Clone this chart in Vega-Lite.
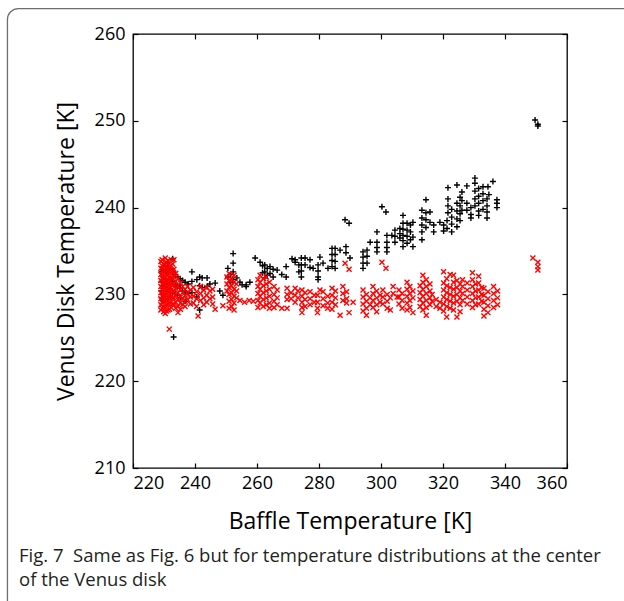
{
  "$schema": "https://vega.github.io/schema/vega-lite/v6.json",
  "width": 434,
  "height": 434,
  "autosize": {"type": "none"},
  "padding": {"left": 133, "top": 34, "right": 57, "bottom": 133},
  "background": "white",
  "config": {
    "view": {"stroke": "#000000", "strokeWidth": 1.3},
    "axis": {"domain": false, "grid": false, "ticks": true, "tickSize": -5, "tickColor": "#000000", "tickWidth": 1.2,
      "labelFont": "Open Sans", "labelFontSize": 18, "labelColor": "#000000",
      "titleFont": "Open Sans", "titleFontSize": 23, "titleFontWeight": "normal", "titleColor": "#000000"},
    "title": {"font": "Open Sans", "fontSize": 18.5, "fontWeight": "normal", "color": "#231f20"}
  },
  "title": {
    "text": ["Fig. 7\u00a0\u00a0Same as Fig. 6 but for temperature distributions at the center", "of the Venus disk"],
    "orient": "bottom", "anchor": "start", "frame": "group", "dx": -114, "offset": -69, "lineHeight": 24
  },
  "datasets": {
    "black": [
      {"baffle":229.2,"venus":232.6},{"baffle":229.2,"venus":231.5},{"baffle":229.2,"venus":230.4},{"baffle":229.2,"venus":229.6},
      {"baffle":229.8,"venus":233.2},{"baffle":229.8,"venus":232.0},{"baffle":229.8,"venus":231.0},{"baffle":229.8,"venus":230.0},{"baffle":229.8,"venus":229.2},
      {"baffle":230.5,"venus":232.8},{"baffle":230.5,"venus":231.7},{"baffle":230.5,"venus":230.8},{"baffle":230.5,"venus":229.8},
      {"baffle":231.2,"venus":233.6},{"baffle":231.2,"venus":232.4},{"baffle":231.2,"venus":231.3},{"baffle":231.2,"venus":230.3},{"baffle":231.2,"venus":229.4},
      {"baffle":232.0,"venus":232.9},{"baffle":232.0,"venus":231.8},{"baffle":232.0,"venus":230.6},{"baffle":232.0,"venus":229.7},
      {"baffle":232.8,"venus":234.1},{"baffle":232.8,"venus":232.6},{"baffle":232.8,"venus":231.5},{"baffle":232.8,"venus":230.2},
      {"baffle":233.1,"venus":225.1},
      {"baffle":233.6,"venus":232.3},{"baffle":233.6,"venus":231.2},{"baffle":233.6,"venus":230.1},
      {"baffle":234.4,"venus":232.0},{"baffle":234.4,"venus":231.0},{"baffle":234.4,"venus":229.9},
      {"baffle":235.2,"venus":231.8},{"baffle":235.2,"venus":230.7},{"baffle":235.2,"venus":229.6},
      {"baffle":236.0,"venus":231.6},{"baffle":236.0,"venus":230.4},
      {"baffle":236.8,"venus":231.4},{"baffle":236.8,"venus":230.3},{"baffle":236.8,"venus":229.2},
      {"baffle":237.8,"venus":231.2},{"baffle":237.8,"venus":230.1},
      {"baffle":239.0,"venus":232.6},{"baffle":239.0,"venus":231.5},{"baffle":239.0,"venus":230.2},
      {"baffle":240.6,"venus":231.7},{"baffle":240.6,"venus":229.7},
      {"baffle":241.5,"venus":232.0},{"baffle":241.5,"venus":231.0},{"baffle":241.5,"venus":228.2},
      {"baffle":242.3,"venus":231.9},{"baffle":242.3,"venus":230.8},
      {"baffle":243.9,"venus":231.9},{"baffle":243.9,"venus":230.9},
      {"baffle":244.8,"venus":231.2},{"baffle":246.5,"venus":231.3},{"baffle":248.0,"venus":230.4},{"baffle":249.0,"venus":229.9},
      {"baffle":250.6,"venus":233.0},{"baffle":250.6,"venus":232.0},
      {"baffle":251.5,"venus":232.3},{"baffle":251.5,"venus":231.4},
      {"baffle":252.3,"venus":234.7},{"baffle":252.3,"venus":233.6},{"baffle":252.3,"venus":232.6},{"baffle":252.3,"venus":231.7},
      {"baffle":253.5,"venus":231.9},{"baffle":254.5,"venus":231.4},{"baffle":255.2,"venus":231.1},
      {"baffle":256.5,"venus":230.9},{"baffle":256.5,"venus":231.1},{"baffle":257.7,"venus":231.4},
      {"baffle":259.4,"venus":234.2},{"baffle":261.0,"venus":233.7},
      {"baffle":261.8,"venus":233.3},{"baffle":261.8,"venus":232.5},
      {"baffle":262.5,"venus":233.4},{"baffle":262.5,"venus":232.6},{"baffle":262.5,"venus":231.9},
      {"baffle":263.3,"venus":233.0},{"baffle":263.3,"venus":232.2},
      {"baffle":264.2,"venus":233.2},{"baffle":264.2,"venus":232.4},
      {"baffle":265.2,"venus":232.9},{"baffle":265.2,"venus":232.0},
      {"baffle":266.5,"venus":232.8},{"baffle":268.0,"venus":232.3},
      {"baffle":269.4,"venus":233.2},{"baffle":269.4,"venus":232.0},
      {"baffle":271.3,"venus":234.1},{"baffle":272.3,"venus":234.0},{"baffle":272.3,"venus":233.7},
      {"baffle":273.5,"venus":233.4},{"baffle":273.5,"venus":232.6},
      {"baffle":274.3,"venus":234.2},{"baffle":274.3,"venus":233.4},{"baffle":274.3,"venus":232.7},{"baffle":274.3,"venus":232.0},
      {"baffle":275.5,"venus":234.2},{"baffle":275.5,"venus":233.4},
      {"baffle":277.1,"venus":234.0},{"baffle":277.1,"venus":233.1},{"baffle":278.1,"venus":233.0},
      {"baffle":279.7,"venus":233.4},{"baffle":279.7,"venus":232.7},{"baffle":279.7,"venus":232.0},{"baffle":279.7,"venus":231.7},
      {"baffle":280.3,"venus":234.3},{"baffle":281.3,"venus":233.6},{"baffle":282.9,"venus":233.0},
      {"baffle":284.2,"venus":235.3},{"baffle":284.2,"venus":234.6},{"baffle":284.2,"venus":233.9},{"baffle":284.2,"venus":233.2},
      {"baffle":285.2,"venus":235.3},{"baffle":285.2,"venus":234.6},{"baffle":285.2,"venus":233.8},{"baffle":285.2,"venus":233.0},
      {"baffle":286.8,"venus":235.1},{"baffle":288.4,"venus":238.6},
      {"baffle":288.7,"venus":235.5},{"baffle":288.7,"venus":234.8},
      {"baffle":289.7,"venus":238.2},{"baffle":290.0,"venus":234.2},
      {"baffle":294.2,"venus":234.9},{"baffle":294.2,"venus":234.3},{"baffle":294.2,"venus":233.6},{"baffle":294.2,"venus":233.0},
      {"baffle":295.5,"venus":235.1},{"baffle":295.5,"venus":234.4},{"baffle":295.5,"venus":233.6},
      {"baffle":296.5,"venus":236.0},
      {"baffle":298.7,"venus":237.2},{"baffle":298.7,"venus":236.0},{"baffle":298.7,"venus":235.4},{"baffle":298.7,"venus":234.9},
      {"baffle":300.3,"venus":240.1},{"baffle":301.6,"venus":239.5},
      {"baffle":301.9,"venus":236.8},{"baffle":301.9,"venus":236.0},{"baffle":301.9,"venus":235.4},{"baffle":301.9,"venus":234.9},
      {"baffle":303.5,"venus":236.8},
      {"baffle":304.5,"venus":237.4},{"baffle":304.5,"venus":236.7},{"baffle":304.5,"venus":236.0},
      {"baffle":306.1,"venus":237.6},{"baffle":306.1,"venus":237.0},{"baffle":306.1,"venus":236.5},
      {"baffle":307.1,"venus":239.1},{"baffle":307.1,"venus":238.2},{"baffle":307.1,"venus":237.5},{"baffle":307.1,"venus":236.8},{"baffle":307.1,"venus":236.2},{"baffle":307.1,"venus":235.5},
      {"baffle":308.4,"venus":238.2},{"baffle":308.4,"venus":237.4},{"baffle":308.4,"venus":236.7},{"baffle":308.4,"venus":235.9},
      {"baffle":309.5,"venus":238.0},{"baffle":309.5,"venus":237.2},{"baffle":309.5,"venus":236.3},
      {"baffle":310.3,"venus":238.3},{"baffle":310.3,"venus":236.6},{"baffle":310.3,"venus":235.5},
      {"baffle":313.2,"venus":239.7},{"baffle":313.2,"venus":238.8},{"baffle":313.2,"venus":238.0},{"baffle":313.2,"venus":237.2},{"baffle":313.2,"venus":236.3},
      {"baffle":314.5,"venus":240.9},{"baffle":314.5,"venus":239.4},{"baffle":314.5,"venus":238.6},{"baffle":314.5,"venus":237.7},
      {"baffle":315.8,"venus":239.5},{"baffle":315.8,"venus":238.3},
      {"baffle":317.0,"venus":238.0},{"baffle":317.0,"venus":237.2},
      {"baffle":319.0,"venus":238.3},
      {"baffle":320.2,"venus":238.0},{"baffle":320.2,"venus":237.3},
      {"baffle":321.3,"venus":238.5},{"baffle":321.3,"venus":237.6},
      {"baffle":321.6,"venus":242.3},{"baffle":321.6,"venus":241.0},{"baffle":321.6,"venus":240.2},{"baffle":321.6,"venus":239.4},
      {"baffle":322.8,"venus":239.8},{"baffle":322.8,"venus":238.9},{"baffle":322.8,"venus":238.1},{"baffle":322.8,"venus":237.2},
      {"baffle":324.5,"venus":242.6},{"baffle":324.5,"venus":240.5},{"baffle":324.5,"venus":239.6},{"baffle":324.5,"venus":238.7},{"baffle":324.5,"venus":237.8},
      {"baffle":325.5,"venus":241.2},{"baffle":325.5,"venus":240.2},{"baffle":325.5,"venus":239.3},{"baffle":325.5,"venus":238.5},
      {"baffle":326.1,"venus":241.8},{"baffle":326.1,"venus":240.8},{"baffle":326.1,"venus":239.7},
      {"baffle":327.7,"venus":242.5},{"baffle":327.7,"venus":240.5},{"baffle":327.7,"venus":239.7},
      {"baffle":329.0,"venus":240.0},{"baffle":329.0,"venus":239.2},{"baffle":329.0,"venus":238.8},
      {"baffle":330.3,"venus":243.4},{"baffle":330.3,"venus":242.8},{"baffle":330.3,"venus":241.9},{"baffle":330.3,"venus":241.0},{"baffle":330.3,"venus":240.2},
      {"baffle":331.5,"venus":242.2},{"baffle":331.5,"venus":241.3},{"baffle":331.5,"venus":240.5},{"baffle":331.5,"venus":239.6},{"baffle":331.5,"venus":239.1},
      {"baffle":332.9,"venus":242.4},{"baffle":332.9,"venus":241.6},{"baffle":332.9,"venus":240.8},{"baffle":332.9,"venus":239.8},
      {"baffle":334.2,"venus":241.0},{"baffle":334.2,"venus":240.2},{"baffle":334.2,"venus":239.5},{"baffle":334.2,"venus":238.8},
      {"baffle":334.5,"venus":242.4},{"baffle":334.8,"venus":241.5},{"baffle":336.1,"venus":243.0},
      {"baffle":337.4,"venus":240.9},{"baffle":337.4,"venus":240.5},{"baffle":337.4,"venus":240.0},
      {"baffle":349.7,"venus":250.1},{"baffle":350.6,"venus":249.6},{"baffle":350.6,"venus":249.4}
    ],
    "red": [
      {"baffle":229.0,"venus":233.8},{"baffle":229.0,"venus":233.0},{"baffle":229.0,"venus":232.3},{"baffle":229.0,"venus":231.6},{"baffle":229.0,"venus":230.9},{"baffle":229.0,"venus":230.2},{"baffle":229.0,"venus":229.5},{"baffle":229.0,"venus":228.8},{"baffle":229.0,"venus":228.2},
      {"baffle":229.4,"venus":234.0},{"baffle":229.4,"venus":233.3},{"baffle":229.4,"venus":232.6},{"baffle":229.4,"venus":231.9},{"baffle":229.4,"venus":231.2},{"baffle":229.4,"venus":230.5},{"baffle":229.4,"venus":229.8},{"baffle":229.4,"venus":229.1},{"baffle":229.4,"venus":228.4},
      {"baffle":229.9,"venus":233.5},{"baffle":229.9,"venus":232.8},{"baffle":229.9,"venus":232.1},{"baffle":229.9,"venus":231.4},{"baffle":229.9,"venus":230.7},{"baffle":229.9,"venus":230.0},{"baffle":229.9,"venus":229.3},{"baffle":229.9,"venus":228.6},{"baffle":229.9,"venus":228.0},
      {"baffle":230.4,"venus":234.2},{"baffle":230.4,"venus":233.4},{"baffle":230.4,"venus":232.7},{"baffle":230.4,"venus":232.0},{"baffle":230.4,"venus":231.3},{"baffle":230.4,"venus":230.6},{"baffle":230.4,"venus":229.9},{"baffle":230.4,"venus":229.2},{"baffle":230.4,"venus":228.5},{"baffle":230.4,"venus":227.8},
      {"baffle":230.8,"venus":233.7},{"baffle":230.8,"venus":233.0},{"baffle":230.8,"venus":232.3},{"baffle":230.8,"venus":231.6},{"baffle":230.8,"venus":230.9},{"baffle":230.8,"venus":230.2},{"baffle":230.8,"venus":229.5},{"baffle":230.8,"venus":228.8},{"baffle":230.8,"venus":228.1},
      {"baffle":231.3,"venus":233.9},{"baffle":231.3,"venus":233.1},{"baffle":231.3,"venus":232.4},{"baffle":231.3,"venus":231.7},{"baffle":231.3,"venus":231.0},{"baffle":231.3,"venus":230.3},{"baffle":231.3,"venus":229.6},{"baffle":231.3,"venus":228.9},{"baffle":231.3,"venus":228.2},
      {"baffle":231.8,"venus":233.2},{"baffle":231.8,"venus":232.5},{"baffle":231.8,"venus":231.8},{"baffle":231.8,"venus":231.1},{"baffle":231.8,"venus":230.4},{"baffle":231.8,"venus":229.7},{"baffle":231.8,"venus":229.0},{"baffle":231.8,"venus":228.3},{"baffle":231.7,"venus":226.0},
      {"baffle":232.3,"venus":234.0},{"baffle":232.3,"venus":233.3},{"baffle":232.3,"venus":232.6},{"baffle":232.3,"venus":231.9},{"baffle":232.3,"venus":231.2},{"baffle":232.3,"venus":230.5},{"baffle":232.3,"venus":229.8},{"baffle":232.3,"venus":229.1},{"baffle":232.3,"venus":228.5},
      {"baffle":232.8,"venus":233.5},{"baffle":232.8,"venus":232.6},{"baffle":232.8,"venus":231.8},{"baffle":232.8,"venus":231.0},{"baffle":232.8,"venus":230.3},{"baffle":232.8,"venus":229.6},{"baffle":232.8,"venus":228.9},
      {"baffle":233.2,"venus":234.0},{"baffle":233.2,"venus":232.9},{"baffle":233.2,"venus":232.0},{"baffle":233.2,"venus":231.2},{"baffle":233.2,"venus":230.4},{"baffle":233.2,"venus":229.6},{"baffle":233.2,"venus":228.8},
      {"baffle":233.8,"venus":232.4},{"baffle":233.8,"venus":231.5},{"baffle":233.8,"venus":230.7},{"baffle":233.8,"venus":229.9},{"baffle":233.8,"venus":229.1},{"baffle":233.8,"venus":228.4},
      {"baffle":234.5,"venus":231.8},{"baffle":234.5,"venus":231.0},{"baffle":234.5,"venus":230.2},{"baffle":234.5,"venus":229.4},{"baffle":234.5,"venus":228.6},{"baffle":234.5,"venus":227.9},
      {"baffle":235.3,"venus":231.3},{"baffle":235.3,"venus":230.5},{"baffle":235.3,"venus":229.7},{"baffle":235.3,"venus":229.0},{"baffle":235.3,"venus":228.3},
      {"baffle":236.0,"venus":230.9},{"baffle":236.0,"venus":230.2},{"baffle":236.0,"venus":229.5},{"baffle":236.0,"venus":228.8},
      {"baffle":236.8,"venus":230.6},{"baffle":236.8,"venus":229.9},{"baffle":236.8,"venus":229.2},{"baffle":236.8,"venus":228.6},
      {"baffle":237.6,"venus":230.9},{"baffle":237.6,"venus":230.1},{"baffle":237.6,"venus":229.4},
      {"baffle":238.5,"venus":230.5},{"baffle":238.5,"venus":229.7},{"baffle":238.5,"venus":228.9},
      {"baffle":239.5,"venus":230.8},{"baffle":239.5,"venus":229.8},{"baffle":239.5,"venus":229.0},
      {"baffle":240.5,"venus":230.3},{"baffle":240.5,"venus":229.5},{"baffle":240.5,"venus":228.6},
      {"baffle":241.0,"venus":227.5},
      {"baffle":241.8,"venus":230.9},{"baffle":241.8,"venus":230.1},{"baffle":241.8,"venus":229.3},
      {"baffle":242.8,"venus":230.5},{"baffle":242.8,"venus":229.6},{"baffle":242.8,"venus":228.8},
      {"baffle":243.8,"venus":230.8},{"baffle":243.8,"venus":229.9},{"baffle":243.8,"venus":229.1},
      {"baffle":244.8,"venus":230.4},{"baffle":244.8,"venus":229.5},
      {"baffle":245.7,"venus":230.6},{"baffle":245.7,"venus":229.7},{"baffle":245.7,"venus":228.9},
      {"baffle":246.5,"venus":228.3},{"baffle":249.0,"venus":228.7},
      {"baffle":250.3,"venus":232.0},{"baffle":250.3,"venus":231.2},{"baffle":250.3,"venus":230.4},
      {"baffle":251.0,"venus":232.4},{"baffle":251.0,"venus":231.6},{"baffle":251.0,"venus":230.8},{"baffle":251.0,"venus":230.0},{"baffle":251.0,"venus":229.2},{"baffle":251.0,"venus":228.4},
      {"baffle":251.8,"venus":231.8},{"baffle":251.8,"venus":231.0},{"baffle":251.8,"venus":230.2},{"baffle":251.8,"venus":229.4},{"baffle":251.8,"venus":228.6},
      {"baffle":252.6,"venus":232.2},{"baffle":252.6,"venus":231.4},{"baffle":252.6,"venus":230.6},{"baffle":252.6,"venus":229.8},{"baffle":252.6,"venus":229.0},{"baffle":252.6,"venus":228.2},
      {"baffle":253.4,"venus":231.2},{"baffle":253.4,"venus":230.4},{"baffle":253.4,"venus":229.6},
      {"baffle":254.5,"venus":229.3},{"baffle":256.0,"venus":229.1},{"baffle":257.5,"venus":229.3},{"baffle":258.8,"venus":229.2},
      {"baffle":260.3,"venus":231.7},{"baffle":260.3,"venus":230.9},{"baffle":260.3,"venus":230.1},{"baffle":260.3,"venus":229.3},{"baffle":260.3,"venus":228.5},
      {"baffle":261.0,"venus":232.2},{"baffle":261.0,"venus":231.4},{"baffle":261.0,"venus":230.6},{"baffle":261.0,"venus":229.8},{"baffle":261.0,"venus":229.0},
      {"baffle":262.0,"venus":231.8},{"baffle":262.0,"venus":231.0},{"baffle":262.0,"venus":230.2},{"baffle":262.0,"venus":229.4},{"baffle":262.0,"venus":228.6},
      {"baffle":263.0,"venus":232.0},{"baffle":263.0,"venus":231.2},{"baffle":263.0,"venus":230.4},{"baffle":263.0,"venus":229.6},{"baffle":263.0,"venus":228.8},
      {"baffle":264.0,"venus":231.4},{"baffle":264.0,"venus":230.6},{"baffle":264.0,"venus":229.8},{"baffle":264.0,"venus":229.0},{"baffle":264.0,"venus":228.4},
      {"baffle":265.5,"venus":230.9},{"baffle":265.5,"venus":230.0},{"baffle":265.5,"venus":229.2},{"baffle":265.5,"venus":228.5},
      {"baffle":266.5,"venus":230.5},{"baffle":266.5,"venus":229.6},{"baffle":266.5,"venus":228.8},
      {"baffle":268.0,"venus":228.4},
      {"baffle":269.7,"venus":230.7},{"baffle":269.7,"venus":230.0},{"baffle":269.7,"venus":229.4},{"baffle":269.7,"venus":228.4},
      {"baffle":271.0,"venus":230.2},{"baffle":271.0,"venus":229.5},
      {"baffle":272.3,"venus":230.7},{"baffle":272.3,"venus":229.9},{"baffle":272.3,"venus":229.1},
      {"baffle":273.2,"venus":230.4},{"baffle":273.2,"venus":229.6},
      {"baffle":274.5,"venus":230.5},{"baffle":274.5,"venus":229.8},{"baffle":274.5,"venus":229.1},{"baffle":274.5,"venus":228.5},{"baffle":274.5,"venus":227.9},
      {"baffle":275.5,"venus":230.2},{"baffle":275.5,"venus":229.4},{"baffle":275.5,"venus":228.6},
      {"baffle":277.1,"venus":230.3},{"baffle":277.1,"venus":229.5},{"baffle":277.1,"venus":228.8},
      {"baffle":278.5,"venus":229.9},{"baffle":278.5,"venus":229.1},
      {"baffle":279.5,"venus":229.9},{"baffle":279.5,"venus":229.1},{"baffle":279.5,"venus":228.4},{"baffle":279.5,"venus":227.9},
      {"baffle":280.3,"venus":230.5},
      {"baffle":281.3,"venus":230.3},{"baffle":281.3,"venus":229.5},{"baffle":281.3,"venus":228.7},
      {"baffle":282.8,"venus":229.8},{"baffle":282.8,"venus":229.0},{"baffle":282.8,"venus":228.4},
      {"baffle":284.2,"venus":230.7},{"baffle":284.2,"venus":229.9},{"baffle":284.2,"venus":229.1},{"baffle":284.2,"venus":228.3},
      {"baffle":285.3,"venus":230.4},{"baffle":285.3,"venus":229.6},{"baffle":285.3,"venus":228.8},
      {"baffle":286.8,"venus":227.6},
      {"baffle":287.7,"venus":230.9},{"baffle":287.7,"venus":230.1},{"baffle":287.7,"venus":229.3},
      {"baffle":288.4,"venus":233.6},
      {"baffle":288.9,"venus":230.3},{"baffle":288.9,"venus":229.5},{"baffle":288.9,"venus":229.0},
      {"baffle":289.7,"venus":232.9},{"baffle":289.7,"venus":227.9},{"baffle":291.0,"venus":229.1},
      {"baffle":294.2,"venus":230.5},{"baffle":294.2,"venus":229.7},{"baffle":294.2,"venus":228.9},{"baffle":294.2,"venus":228.1},
      {"baffle":295.3,"venus":230.0},{"baffle":295.3,"venus":229.2},{"baffle":295.3,"venus":228.4},{"baffle":295.3,"venus":227.6},
      {"baffle":296.5,"venus":229.6},{"baffle":296.5,"venus":228.8},
      {"baffle":297.4,"venus":230.9},{"baffle":297.4,"venus":230.1},{"baffle":297.4,"venus":229.3},{"baffle":297.4,"venus":228.5},
      {"baffle":298.6,"venus":230.4},{"baffle":298.6,"venus":229.6},{"baffle":298.6,"venus":228.8},{"baffle":298.6,"venus":228.0},
      {"baffle":299.7,"venus":229.9},{"baffle":299.7,"venus":229.1},
      {"baffle":300.3,"venus":233.7},
      {"baffle":300.6,"venus":230.5},{"baffle":300.6,"venus":229.7},{"baffle":300.6,"venus":228.9},
      {"baffle":301.6,"venus":233.0},
      {"baffle":302.0,"venus":230.0},{"baffle":302.0,"venus":229.2},{"baffle":302.0,"venus":228.4},
      {"baffle":303.0,"venus":229.6},{"baffle":303.0,"venus":228.2},
      {"baffle":303.9,"venus":230.9},{"baffle":303.9,"venus":230.1},
      {"baffle":305.2,"venus":229.7},
      {"baffle":305.8,"venus":230.5},{"baffle":305.8,"venus":229.7},{"baffle":305.8,"venus":228.9},
      {"baffle":306.8,"venus":230.1},{"baffle":306.8,"venus":229.3},{"baffle":306.8,"venus":228.4},
      {"baffle":308.4,"venus":231.4},{"baffle":308.4,"venus":230.6},{"baffle":308.4,"venus":229.8},{"baffle":308.4,"venus":229.0},{"baffle":308.4,"venus":228.2},
      {"baffle":309.3,"venus":230.9},{"baffle":309.3,"venus":230.1},{"baffle":309.3,"venus":229.3},{"baffle":309.3,"venus":228.5},
      {"baffle":310.3,"venus":230.4},{"baffle":310.3,"venus":229.6},{"baffle":310.3,"venus":227.9},
      {"baffle":312.6,"venus":231.0},{"baffle":312.6,"venus":230.2},{"baffle":312.6,"venus":229.4},{"baffle":312.6,"venus":228.6},
      {"baffle":313.5,"venus":232.2},{"baffle":313.5,"venus":231.4},{"baffle":313.5,"venus":230.6},{"baffle":313.5,"venus":229.8},{"baffle":313.5,"venus":229.0},{"baffle":313.5,"venus":228.2},
      {"baffle":314.6,"venus":231.7},{"baffle":314.6,"venus":230.9},{"baffle":314.6,"venus":230.1},{"baffle":314.6,"venus":229.3},{"baffle":314.6,"venus":228.5},{"baffle":314.6,"venus":227.6},
      {"baffle":315.8,"venus":231.2},{"baffle":315.8,"venus":230.4},{"baffle":315.8,"venus":229.6},{"baffle":315.8,"venus":228.8},
      {"baffle":316.5,"venus":230.0},{"baffle":316.5,"venus":229.2},
      {"baffle":317.8,"venus":229.4},{"baffle":317.8,"venus":228.6},
      {"baffle":319.0,"venus":228.4},{"baffle":319.0,"venus":229.1},
      {"baffle":320.2,"venus":232.6},{"baffle":320.2,"venus":231.3},{"baffle":320.2,"venus":230.5},{"baffle":320.2,"venus":229.7},{"baffle":320.2,"venus":228.9},{"baffle":320.2,"venus":228.1},
      {"baffle":321.2,"venus":231.8},{"baffle":321.2,"venus":231.0},{"baffle":321.2,"venus":230.2},{"baffle":321.2,"venus":229.4},{"baffle":321.2,"venus":228.6},{"baffle":321.2,"venus":227.4},
      {"baffle":322.3,"venus":232.3},{"baffle":322.3,"venus":230.8},{"baffle":322.3,"venus":230.0},{"baffle":322.3,"venus":229.2},{"baffle":322.3,"venus":228.4},
      {"baffle":323.4,"venus":232.2},{"baffle":323.4,"venus":231.4},{"baffle":323.4,"venus":230.6},{"baffle":323.4,"venus":229.8},{"baffle":323.4,"venus":229.0},{"baffle":323.4,"venus":228.2},
      {"baffle":324.5,"venus":231.6},{"baffle":324.5,"venus":230.8},{"baffle":324.5,"venus":230.0},{"baffle":324.5,"venus":229.2},{"baffle":324.5,"venus":227.4},
      {"baffle":325.5,"venus":231.2},{"baffle":325.5,"venus":230.4},{"baffle":325.5,"venus":229.6},{"baffle":325.5,"venus":228.8},{"baffle":325.5,"venus":228.0},
      {"baffle":326.3,"venus":231.7},{"baffle":326.3,"venus":230.9},{"baffle":326.3,"venus":230.1},{"baffle":326.3,"venus":229.3},
      {"baffle":327.8,"venus":231.3},{"baffle":327.8,"venus":230.5},{"baffle":327.8,"venus":229.7},{"baffle":327.8,"venus":228.9},
      {"baffle":329.5,"venus":232.5},{"baffle":329.5,"venus":231.7},{"baffle":329.5,"venus":230.9},{"baffle":329.5,"venus":230.1},{"baffle":329.5,"venus":229.3},{"baffle":329.5,"venus":228.5},
      {"baffle":330.5,"venus":231.2},{"baffle":330.5,"venus":230.4},{"baffle":330.5,"venus":229.6},{"baffle":330.5,"venus":228.8},
      {"baffle":331.5,"venus":232.1},{"baffle":331.5,"venus":231.3},{"baffle":331.5,"venus":230.5},{"baffle":331.5,"venus":229.7},{"baffle":331.5,"venus":228.9},
      {"baffle":332.5,"venus":230.8},{"baffle":332.5,"venus":230.0},{"baffle":332.5,"venus":229.2},
      {"baffle":333.2,"venus":230.7},{"baffle":333.2,"venus":229.9},{"baffle":333.2,"venus":229.1},{"baffle":333.2,"venus":228.3},{"baffle":333.2,"venus":227.5},
      {"baffle":334.5,"venus":230.3},{"baffle":334.5,"venus":229.5},{"baffle":334.5,"venus":228.7},{"baffle":334.5,"venus":227.9},
      {"baffle":336.3,"venus":230.9},{"baffle":336.3,"venus":230.1},{"baffle":336.3,"venus":229.3},{"baffle":336.3,"venus":228.5},
      {"baffle":337.6,"venus":230.4},{"baffle":337.6,"venus":229.6},{"baffle":337.6,"venus":228.8},
      {"baffle":349.0,"venus":234.2},{"baffle":350.6,"venus":233.7},{"baffle":350.6,"venus":233.2},{"baffle":350.6,"venus":232.8}
    ]
  },
  "layer": [
    {
      "data": {"name": "black"},
      "mark": {"type": "point", "shape": "M-1,0H1M0,-1V1", "filled": false, "stroke": "#000000", "strokeWidth": 1.4, "size": 36, "opacity": 1},
      "encoding": {
        "x": {"field": "baffle", "type": "quantitative", "scale": {"domain": [220, 360], "nice": false, "zero": false},
          "axis": {"orient": "bottom", "values": [220, 240, 260, 280, 300, 320, 340, 360], "labelPadding": 11, "title": "Baffle Temperature [K]", "titlePadding": 18}},
        "y": {"field": "venus", "type": "quantitative", "scale": {"domain": [210, 260], "nice": false, "zero": false},
          "axis": {"orient": "left", "values": [210, 220, 230, 240, 250, 260], "labelPadding": 13, "title": "Venus Disk Temperature [K]", "titlePadding": 16}}
      }
    },
    {
      "data": {"name": "red"},
      "mark": {"type": "point", "shape": "M-1,-1L1,1M-1,1L1,-1", "filled": false, "stroke": "#ff0000", "strokeWidth": 1.4, "size": 25, "opacity": 1},
      "encoding": {
        "x": {"field": "baffle", "type": "quantitative", "scale": {"domain": [220, 360], "nice": false, "zero": false},
          "axis": {"orient": "top", "values": [220, 240, 260, 280, 300, 320, 340, 360], "labels": false, "title": null}},
        "y": {"field": "venus", "type": "quantitative", "scale": {"domain": [210, 260], "nice": false, "zero": false},
          "axis": {"orient": "right", "values": [210, 220, 230, 240, 250, 260], "labels": false, "title": null}}
      }
    },
    {
      "data": {"values": [{}]},
      "mark": {"type": "rect", "fill": null, "filled": false, "stroke": "#6d6e71", "strokeWidth": 1.3, "cornerRadius": 11, "clip": false},
      "encoding": {
        "x": {"datum": 179.5, "type": "quantitative", "axis": null},
        "x2": {"datum": 385},
        "y": {"datum": 262.93, "type": "quantitative", "axis": null},
        "y2": {"datum": 193}
      }
    }
  ],
  "resolve": {"axis": {"x": "independent", "y": "independent"}}
}
